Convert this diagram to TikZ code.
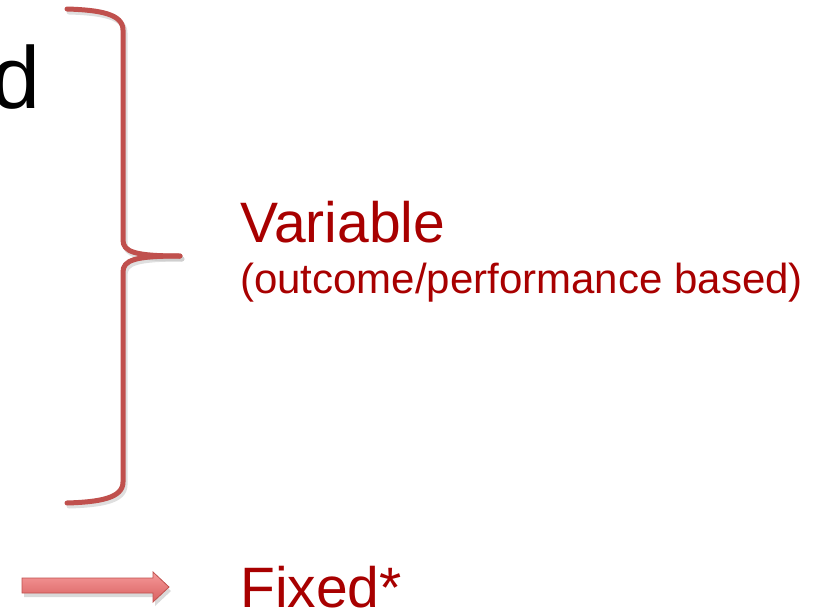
\documentclass[tikz,border=0pt]{standalone}
\usepackage{fontspec}
\setmainfont{Liberation Sans}
\definecolor{txtred}{HTML}{A80000}
\definecolor{bracered}{HTML}{C0504D}
\definecolor{arrowtop}{HTML}{F59A9A}
\definecolor{arrowbot}{HTML}{D95F5F}
\tikzset{
  bracestyle/.style={draw=bracered, line width=5pt, line cap=round, line join=round},
  braceshadow/.style={draw=black!25, line width=5pt, line cap=round, line join=round},
  bigred/.style={text=txtred, font=\fontsize{57}{60}\selectfont, inner sep=0pt},
  smallred/.style={text=txtred, font=\fontsize{42}{46}\selectfont, inner sep=0pt},
  blacktxt/.style={text=black, font=\fontsize{88}{92}\selectfont, inner sep=0pt}
}
\begin{document}
\begin{tikzpicture}[x=1pt,y=-1pt]
\useasboundingbox (0,0) rectangle (838,613);
% black cut-off word
\node[blacktxt, anchor=base east] (d) at (41,108) {d};
% brace shadow
\begin{scope}[shift={(2,3)}]
\draw[braceshadow, opacity=0.5]
  (67,9) .. controls (100,10) and (123,14) .. (123,30) -- (123,240)
  .. controls (123,252) and (135,256) .. (180,256);
\draw[braceshadow, opacity=0.5]
  (180,256) .. controls (135,256) and (123,260) .. (123,272) -- (123,482)
  .. controls (123,498) and (100,502) .. (67,503);
\end{scope}
% brace
\draw[bracestyle]
  (67,9) .. controls (100,10) and (123,14) .. (123,30) -- (123,240)
  .. controls (123,252) and (135,256) .. (180,256);
\draw[bracestyle]
  (180,256) .. controls (135,256) and (123,260) .. (123,272) -- (123,482)
  .. controls (123,498) and (100,502) .. (67,503);
\coordinate (tip) at (180,256);
% labels
\node[bigred, anchor=base west] (variable) at (240,242) {Variable};
\node[smallred, anchor=base west] (sub) at (240,293) {(outcome/performance based)};
% arrow shadow
\fill[black!25, opacity=0.6, shift={(2,4)}]
  (22,578) -- (153,578) -- (153,572) -- (169,587) -- (153,602) -- (153,593) -- (22,593) -- cycle;
% arrow
\draw[draw=bracered, line width=0.8pt, top color=arrowtop, bottom color=arrowbot]
  (22,578) -- (153,578) -- (153,572) -- (169,587) -- (153,602) -- (153,593) -- (22,593) -- cycle;
\node[bigred, anchor=base west] (fixed) at (240,607) {Fixed*};
\end{tikzpicture}
\end{document}
